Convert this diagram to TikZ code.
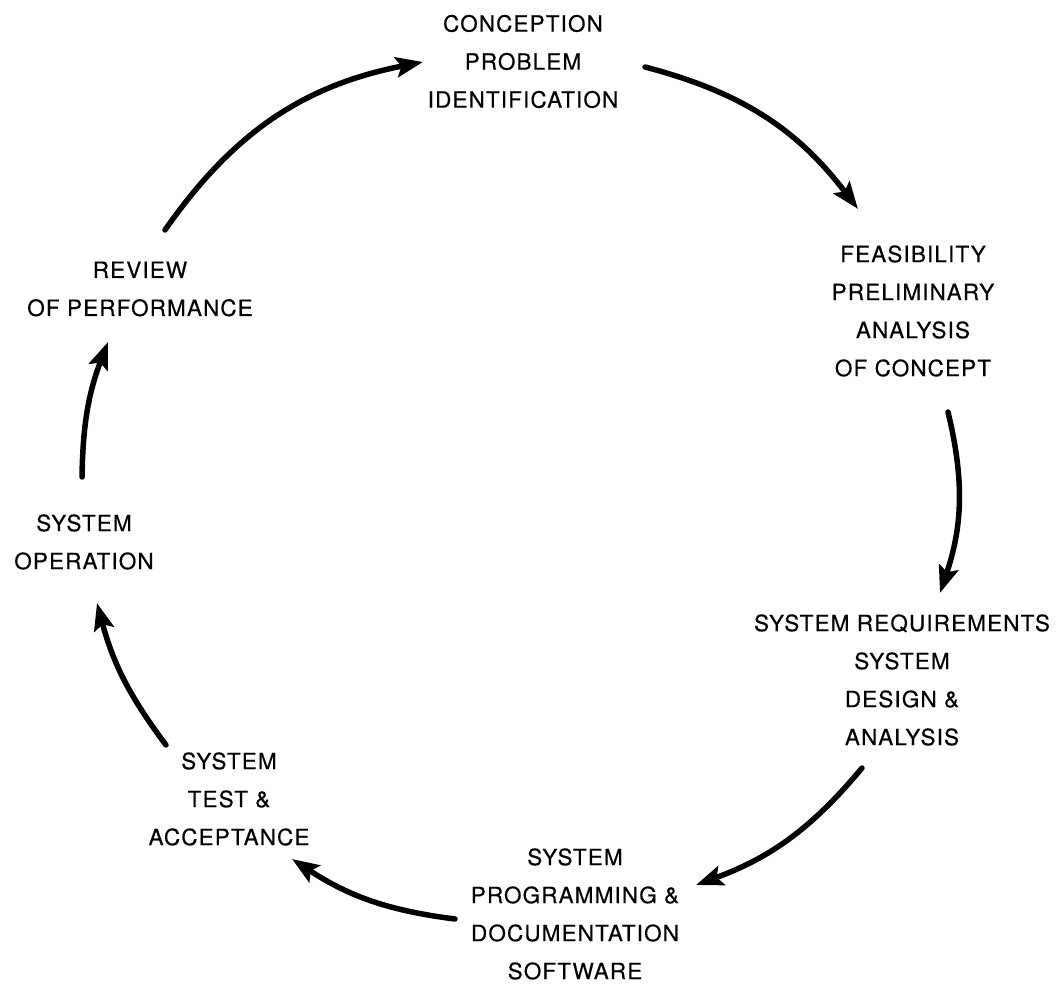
\documentclass[tikz,border=0pt]{standalone}
\usepackage{fontspec}
\setmainfont{TeX Gyre Heros}[LetterSpace=5.0,FakeBold=0.4]
\usepackage{tikz}
\usetikzlibrary{arrows.meta}

\begin{document}
\begin{tikzpicture}[x=1pt,y=1pt]
\useasboundingbox (0,0) rectangle (1063,984);

\tikzstyle{every node}=[align=center,inner sep=0pt,font=\fontsize{22.5}{38}\selectfont]
\tikzstyle{flow}=[line width=5.5pt,line cap=round,-{Stealth[length=27pt,width=20pt,inset=5pt]}]

\node (conc) at (523,922.5) {CONCEPTION\\PROBLEM\\IDENTIFICATION};
\node (feas) at (913,673) {FEASIBILITY\\PRELIMINARY\\ANALYSIS\\OF CONCEPT};
\node (sysreq) at (902,304) {SYSTEM REQUIREMENTS\\SYSTEM\\DESIGN \&\\ANALYSIS};
\node (prog) at (575,70) {SYSTEM\\PROGRAMMING \&\\DOCUMENTATION\\SOFTWARE};
\node (test) at (229,185) {SYSTEM\\TEST \&\\ACCEPTANCE};
\node (oper) at (84,442) {SYSTEM\\OPERATION};
\node (review) at (140,695) {REVIEW\\OF PERFORMANCE};

\coordinate (review out) at (165,754);
\coordinate (conc in) at (423,922);
\coordinate (conc out) at (645,917);
\coordinate (feas in) at (858,775);
\coordinate (feas out) at (948,572);
\coordinate (sysreq in) at (940,391);
\coordinate (sysreq out) at (862,216);
\coordinate (prog in) at (696,99);
\coordinate (prog out) at (455,65);
\coordinate (test in) at (292,125);
\coordinate (test out) at (166,239);
\coordinate (oper in) at (97,381);
\coordinate (oper out) at (82,507);
\coordinate (review in) at (108,642);

\draw[flow] (review out) to[bend left=22] (conc in);
\draw[flow] (conc out) to[bend left=19] (feas in);
\draw[flow] (feas out) to[bend left=16] (sysreq in);
\draw[flow] (sysreq out) to[bend left=15] (prog in);
\draw[flow] (prog out) to[bend left=13] (test in);
\draw[flow] (test out) to[bend left=11] (oper in);
\draw[flow] (oper out) to[bend left=10] (review in);
\end{tikzpicture}
\end{document}
